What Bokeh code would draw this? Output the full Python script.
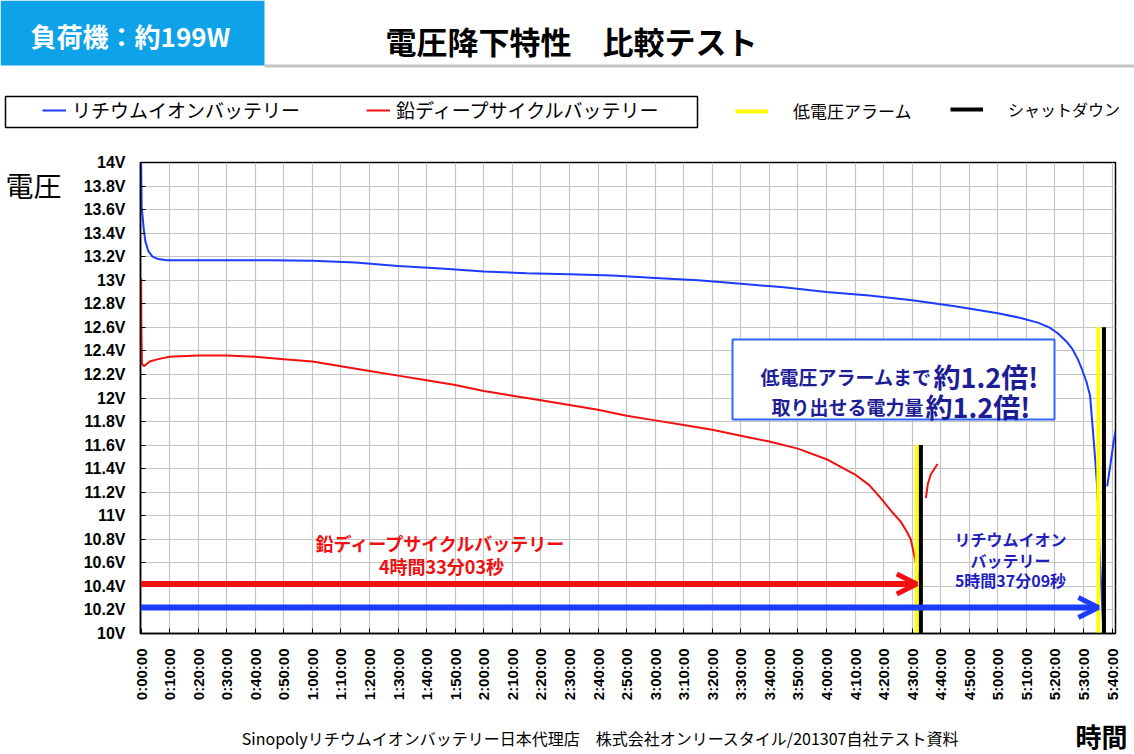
import math

from bokeh.plotting import figure
from bokeh.layouts import column, row
from bokeh.models import (Range1d, FixedTicker, CustomJSTickFormatter, Label, Legend,
                          LegendItem, BoxAnnotation, Arrow, OpenHead)
from bokeh.embed import file_html
from bokeh.resources import INLINE

NAN = float("nan")

# ---- data: elapsed minutes vs. battery voltage under a ~199 W load ----
li_minutes = [0, 0.2, 0.5, 1, 1.5, 2.5, 4, 6, 9, 15, 30, 45, 60, 75, 90, 105, 120, 135,
              150, 165, 180, 195, 210, 225, 240, 255, 270, 285, 300, 308, 314, 318, 321,
              324, 326, 328, 329.5, 331, 332.3, 333.2, 333.7, 334.2, 334.7, 335.1, 335.6,
              336.3, 336.9, 337.5, 338.3, 339.5, 340.5, 341.2]
li_volts = [14.0, 13.62, 13.55, 13.42, 13.33, 13.25, 13.2, 13.18, 13.17, 13.17, 13.17,
            13.17, 13.165, 13.15, 13.12, 13.1, 13.075, 13.06, 13.05, 13.04, 13.02, 13.0,
            12.97, 12.94, 12.9, 12.87, 12.83, 12.78, 12.72, 12.68, 12.64, 12.6, 12.55,
            12.48, 12.42, 12.33, 12.24, 12.14, 12.02, 11.75, 11.6, 11.44, 11.27, 11.07,
            10.7, 10.35, 10.05, NAN, 11.25, 11.45, 11.62, 11.72]

lead_minutes = [0, 0.1, 0.3, 1, 3, 6, 10, 20, 30, 40, 50, 60, 70, 80, 90, 100, 110, 120,
                130, 140, 150, 160, 170, 180, 190, 200, 210, 220, 230, 240, 250, 255, 259,
                263, 266, 268, 269.5, 270.5, 271.2, 272, 273, 274, 274.8, 275.5, 276.5,
                278.9]
lead_volts = [13.02, 12.6, 12.29, 12.27, 12.31, 12.33, 12.35, 12.36, 12.36, 12.35, 12.33,
              12.31, 12.27, 12.23, 12.19, 12.15, 12.11, 12.06, 12.02, 11.98, 11.94, 11.9,
              11.85, 11.81, 11.77, 11.73, 11.68, 11.63, 11.57, 11.48, 11.35, 11.26, 11.15,
              11.03, 10.95, 10.87, 10.8, 10.69, 10.61, 10.5, 10.42, NAN, 11.15, 11.27,
              11.35, 11.44]

# low-voltage alarm and shutdown events (lead, lithium)
alarm_minutes = [271.6, 335.2]
shutdown_minutes = [273.05, 337.15]      # 4:33:03 and 5:37:09
event_top_volts = [11.6, 12.6]

# run-time arrows
lead_arrow_volts = 10.42
li_arrow_volts = 10.22

y_ticks = [round(10 + 0.2 * i, 1) for i in range(21)]
y_tick_labels = ["10V", "10.2V", "10.4V", "10.6V", "10.8V", "11V", "11.2V", "11.4V",
                 "11.6V", "11.8V", "12V", "12.2V", "12.4V", "12.6V", "12.8V", "13V",
                 "13.2V", "13.4V", "13.6V", "13.8V", "14V"]
x_ticks = list(range(0, 341, 10))
x_tick_labels = ["%d:%02d:00" % (m // 60, m % 60) for m in x_ticks]

JP = "Noto Sans CJK JP"
LI_BLUE = "#1c3cff"
LEAD_RED = "#f01010"
ALARM_YELLOW = "#ffff00"
NAVY = "#1d1d96"
CAPTION_BLUE = "#1f1fbf"

# page geometry (pixels from the page's top-left)
PAGE_W, PAGE_H = 1134, 754
TOP_H = 140                 # header + legend strip
LEFT_W = 80                 # strip holding the y-axis title
FRAME_L, FRAME_T, FRAME_R, FRAME_B = 140, 162, 1115, 633
MID_BOTTOM = 715            # end of the chart row; footer strip below
MID_H = MID_BOTTOM - TOP_H


def plain_fig(w, h, x0, y0):
    """A figure whose data units are page pixels (y grows downward)."""
    f = figure(width=w, height=h, x_range=Range1d(x0, x0 + w), y_range=Range1d(y0 + h, y0),
               output_backend="svg", toolbar_location=None, x_axis_location=None,
               y_axis_location=None, min_border=0)
    f.outline_line_color = None
    f.background_fill_color = "white"
    f.border_fill_color = "white"
    f.grid.visible = False
    return f


def add_text(f, s, x, y, size, color="black", bold=False, align="center",
             baseline="middle", units="data"):
    f.add_layout(Label(x=x, y=y, x_units=units, y_units=units, text=s, text_font=JP,
                       text_font_size="%dpx" % size,
                       text_font_style="bold" if bold else "normal", text_color=color,
                       text_align=align, text_baseline=baseline))


# ---- main chart ----
p = figure(width=PAGE_W - LEFT_W, height=MID_H, output_backend="svg", toolbar_location=None,
           x_range=Range1d(-0.2, 341.2), y_range=Range1d(10, 14),
           min_border_left=FRAME_L - LEFT_W, min_border_right=PAGE_W - FRAME_R,
           min_border_top=FRAME_T - TOP_H, min_border_bottom=MID_BOTTOM - FRAME_B)
p.background_fill_color = "white"
p.border_fill_color = "white"
p.outline_line_color = "black"
p.outline_line_width = 1.5


def pick_label(tick_values, tick_texts):
    return CustomJSTickFormatter(args=dict(tvals=tick_values, ttexts=tick_texts), code="""
        let best = 0;
        for (let i = 0; i < tvals.length; i++)
            if (Math.abs(tvals[i] - tick) < Math.abs(tvals[best] - tick)) best = i;
        return ttexts[best];
    """)


p.xaxis.ticker = FixedTicker(ticks=x_ticks)
p.xaxis.formatter = pick_label(x_ticks, x_tick_labels)
p.xaxis.major_label_orientation = math.pi / 2
p.yaxis.ticker = FixedTicker(ticks=y_ticks)
p.yaxis.formatter = pick_label(y_ticks, y_tick_labels)

for ax in (p.xaxis, p.yaxis):
    ax.axis_line_color = "black"
    ax.axis_line_width = 1.5
    ax.major_tick_in = 5
    ax.major_tick_out = 0
    ax.major_tick_line_color = "black"
    ax.minor_tick_line_color = None
    ax.major_label_text_font = "Liberation Sans"
    ax.major_label_text_font_style = "bold"
    ax.major_label_text_color = "black"
p.xaxis.major_label_text_font_size = "15px"
p.xaxis.major_label_standoff = 15
p.yaxis.major_label_text_font_size = "16px"
p.yaxis.major_label_standoff = 15

for g in (p.xgrid, p.ygrid):
    g.grid_line_color = "#c4c4c4"
    g.grid_line_width = 1.2

li_r = p.line(li_minutes, li_volts, line_color=LI_BLUE, line_width=2)
lead_r = p.line(lead_minutes, lead_volts, line_color=LEAD_RED, line_width=2)

bottom = [p.y_range.start] * len(event_top_volts)
p.segment(x0=alarm_minutes, y0=bottom, x1=alarm_minutes, y1=event_top_volts,
          line_color=ALARM_YELLOW, line_width=4)
p.segment(x0=shutdown_minutes, y0=bottom, x1=shutdown_minutes, y1=event_top_volts,
          line_color="black", line_width=4)

p.add_layout(Arrow(end=OpenHead(size=20, line_width=5, line_color=LEAD_RED),
                   x_start=0, y_start=lead_arrow_volts, x_end=alarm_minutes[0],
                   y_end=lead_arrow_volts, line_width=6, line_color=LEAD_RED))
p.add_layout(Arrow(end=OpenHead(size=20, line_width=5, line_color=LI_BLUE),
                   x_start=0, y_start=li_arrow_volts, x_end=alarm_minutes[1],
                   y_end=li_arrow_volts, line_width=6, line_color=LI_BLUE))


# in-frame call-outs, placed in frame pixels (origin at the frame's bottom-left)
def fx(px):
    return px - FRAME_L


def fy(py):
    return FRAME_B - py


p.add_layout(BoxAnnotation(left=fx(732), right=fx(1054), top=fy(339), bottom=fy(419),
                           left_units="screen", right_units="screen", top_units="screen",
                           bottom_units="screen", fill_color="white", fill_alpha=1,
                           line_color="#3366ff", line_alpha=1, line_width=2))
add_text(p, "低電圧アラームまで", fx(931), fy(376), 19, NAVY, True, "right", "alphabetic", "screen")
add_text(p, "約1.2倍!", fx(933), fy(376), 27, NAVY, True, "left", "alphabetic", "screen")
add_text(p, "取り出せる電力量", fx(923), fy(406), 19, NAVY, True, "right", "alphabetic", "screen")
add_text(p, "約1.2倍!", fx(925), fy(406), 27, NAVY, True, "left", "alphabetic", "screen")

add_text(p, "鉛ディープサイクルバッテリー", fx(441), fy(542), 18, LEAD_RED, True, units="screen")
add_text(p, "4時間33分03秒", fx(441), fy(565), 18, LEAD_RED, True, units="screen")
add_text(p, "リチウムイオン", fx(1010), fy(538), 16, CAPTION_BLUE, True, units="screen")
add_text(p, "バッテリー", fx(1010), fy(559), 16, CAPTION_BLUE, True, units="screen")
add_text(p, "5時間37分09秒", fx(1010), fy(579), 16, CAPTION_BLUE, True, units="screen")

# ---- header and legend strip ----
top = plain_fig(PAGE_W, TOP_H, 0, 0)
top.quad(left=[0], right=[264], top=[0], bottom=[65], fill_color="#0ea3e8", line_color=None)
top.quad(left=[264], right=[PAGE_W], top=[64], bottom=[67], fill_color="#c4c4c4",
         line_color=None)
add_text(top, "負荷機：約199W", 130, 35, 26, "white", True)
add_text(top, "電圧降下特性　比較テスト", 571, 40, 31, "black", True)
top.quad(left=[5], right=[697], top=[96], bottom=[127], fill_alpha=0, line_color="black",
         line_width=1.5)

# legend swatches: off-canvas one-point lines that only lend their style to the legend
off = [-50.0]
swatches = [
    (top.line(off, off, line_color=LI_BLUE, line_width=2), "リチウムイオンバッテリー", 42, 111, 24, 6, 19),
    (top.line(off, off, line_color=LEAD_RED, line_width=2), "鉛ディープサイクルバッテリー", 366, 111, 24, 6, 19),
    (top.line(off, off, line_color=ALARM_YELLOW, line_width=4), "低電圧アラーム", 735, 111, 33, 25, 17),
    (top.line(off, off, line_color="black", line_width=4), "シャットダウン", 950, 109, 33, 25, 16),
]
for rend, label, gx, cy, gw, stand, size in swatches:
    top.add_layout(Legend(items=[LegendItem(label=label, renderers=[rend])],
                          location=(gx, TOP_H - (cy + 12)), orientation="horizontal",
                          padding=0, margin=0, spacing=0, glyph_width=gw, glyph_height=24,
                          label_height=24, label_standoff=stand, label_text_font=JP,
                          label_text_font_size="%dpx" % size, label_text_color="black",
                          background_fill_alpha=0, border_line_alpha=0))

# ---- y-axis title strip ----
left = plain_fig(LEFT_W, MID_H, 0, TOP_H)
add_text(left, "電圧", 33, 168, 28)

# ---- footer strip ----
foot = plain_fig(PAGE_W, PAGE_H - MID_BOTTOM, 0, MID_BOTTOM)
add_text(foot, "時間", 1101, 735, 26, "black", True)
add_text(foot, "Sinopolyリチウムイオンバッテリー日本代理店　株式会社オンリースタイル/201307自社テスト資料",
         600, 737, 16)

page = column(top, row(left, p, spacing=0), foot, spacing=0)
open("out.html", "w").write(file_html(page, INLINE))
